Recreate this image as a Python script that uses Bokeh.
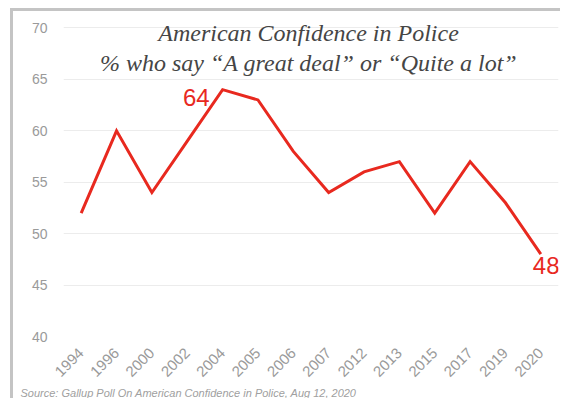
from bokeh.plotting import figure
from bokeh.models import Label, FactorRange, Range1d, Title
from bokeh.embed import file_html
from bokeh.resources import INLINE
from math import pi

# ---- data ----
years = ["1994", "1996", "2000", "2002", "2004", "2005", "2006",
         "2007", "2012", "2013", "2015", "2017", "2019", "2020"]
confidence = [52, 60, 54, 59, 64, 63, 58, 54, 56, 57, 52, 57, 53, 48]
y_ticks = [40, 45, 50, 55, 60, 65, 70]
title_lines = ["American Confidence in Police",
               "% who say \u201cA great deal\u201d or \u201cQuite a lot\u201d"]
source_text = "Source: Gallup Poll On American Confidence in Police, Aug 12, 2020"
peak_year = "2004"
last_year = "2020"

RED = "#e8291f"
GREY = "#9a9a9a"

p = figure(x_range=FactorRange(*years),
           y_range=Range1d(40, 71.5),
           width=560, height=398, output_backend="svg", toolbar_location=None,
           min_border_left=63, min_border_right=2, min_border_top=12,
           min_border_bottom=60,
           styles={"box-shadow": "inset 10px 8px 0 0 white, inset 13px 11px 0 0 #c4c4c4"})

p.outline_line_color = None
p.background_fill_color = "white"
p.border_fill_color = None
p.xgrid.grid_line_color = None
p.ygrid.grid_line_color = "#ececec"
p.ygrid.grid_line_width = 1
p.yaxis.ticker = y_ticks
for ax in (p.xaxis[0], p.yaxis[0]):
    ax.axis_line_color = None
    ax.major_tick_line_color = None
    ax.minor_tick_line_color = None
    ax.major_tick_out = 0
    ax.major_tick_in = 0
    ax.major_label_text_color = GREY
    ax.major_label_text_font = "Liberation Sans"
p.yaxis.major_label_text_font_size = "14px"
p.yaxis.major_label_standoff = 16
p.xaxis.major_label_text_font_size = "15px"
p.xaxis.major_label_orientation = pi / 4
p.xaxis.major_label_standoff = 14

p.line(x=years, y=confidence, line_color=RED, line_width=3, line_join="miter")

# value annotations
i_peak = years.index(peak_year)
p.add_layout(Label(x=i_peak + 0.5, y=confidence[i_peak], text=str(confidence[i_peak]),
                   x_offset=-13, y_offset=-8, text_align="right",
                   text_baseline="alphabetic", text_color=RED,
                   text_font="Liberation Sans", text_font_size="24px"))
i_last = years.index(last_year)
p.add_layout(Label(x=i_last + 0.5, y=confidence[i_last], text=str(confidence[i_last]),
                   x_offset=-8, y_offset=-11, text_align="left",
                   text_baseline="alphabetic", text_color=RED,
                   text_font="Liberation Sans", text_font_size="24px"))

# title inside the plot area (data units)
for k, line in enumerate(title_lines):
    p.add_layout(Label(x=6.93, y=69.47 - 2.85 * k,
                       text=line, text_align="center", text_baseline="alphabetic",
                       text_font="Liberation Serif", text_font_style="italic",
                       text_font_size="24px", text_color="#454545"))

# source note
p.add_layout(Title(text=source_text, align="left", offset=-43, standoff=0,
                   text_font="Liberation Sans", text_font_style="italic",
                   text_font_size="11px", text_color="#a0a0a0"), "below")

open("out.html", "w").write(file_html(p, INLINE))
